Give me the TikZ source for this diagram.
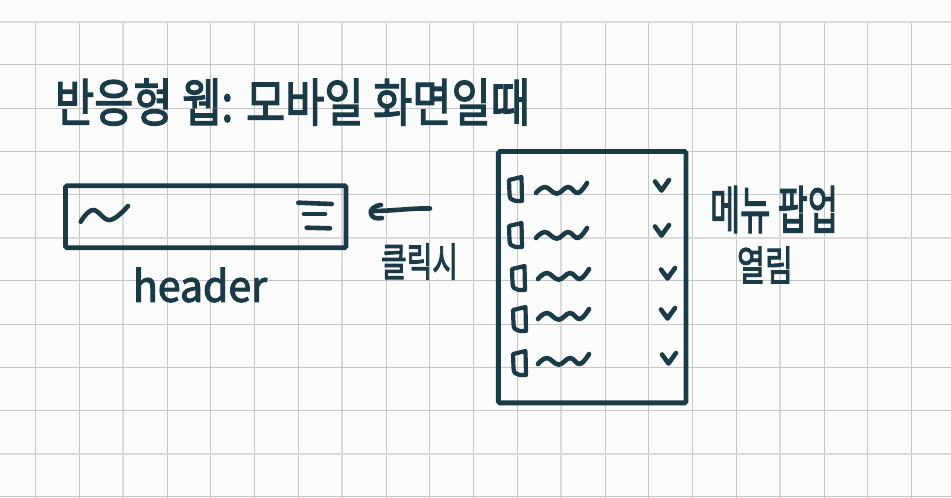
\documentclass[tikz,border=0pt]{standalone}
\usepackage{fontspec}
\usepackage{graphicx}
\newfontfamily\krfont{Noto Sans CJK KR}[FakeBold=2.6]
\definecolor{ink}{HTML}{1A3A47}
\definecolor{gridminor}{HTML}{C6C6C6}
\definecolor{gridmajor}{HTML}{DADADA}
\definecolor{paper}{HTML}{FCFCFC}
\tikzset{
  ink/.style={draw=ink, line width=4.6pt, line cap=round, line join=round},
  boxframe/.style={draw=ink, line width=4.8pt, rounded corners=1.5pt, inner sep=0pt},
  handtext/.style={text=ink, inner sep=0pt, font=\krfont},
  minorline/.style={draw=gridminor, line width=0.9pt},
  majorline/.style={draw=gridmajor, line width=1.8pt},
}
\newcommand{\fitbox}[3]{\resizebox{#1pt}{#2pt}{#3}}
\begin{document}
\begin{tikzpicture}[x=1pt,y=-1pt]
\fill[paper] (0,0) rectangle (951,498);
\useasboundingbox (0,0) rectangle (951,498);
% grid
\foreach \k in {0,...,20}{
  \pgfmathsetmacro{\gx}{35.7+43.8*\k}
  \pgfmathtruncatemacro{\m}{mod(\k,5)}
  \ifnum\m=2 \draw[majorline] (\gx,21.7) -- (\gx,498);
  \else \draw[minorline] (\gx,21.7) -- (\gx,498); \fi
}
\foreach \k in {0,...,11}{
  \pgfmathsetmacro{\gy}{21.7+43.2*\k}
  \pgfmathtruncatemacro{\m}{mod(\k,5)}
  \ifnum\m=0 \draw[majorline] (0,\gy) -- (951,\gy);
  \else \draw[minorline] (0,\gy) -- (951,\gy); \fi
}
% title
\node[handtext] (title) at (292.5,102) {\fitbox{475}{43}{반응형 웹: 모바일 화면일때}};
% header box
\node[boxframe, minimum width=280.5pt, minimum height=62pt] (header) at (205.8,216.7) {};
\draw[ink] plot[smooth, tension=0.7] coordinates {(80.7,221.7) (93,210) (110,220) (128,206)};
\draw[ink] (298.3,202.7) -- (331.7,204);
\draw[ink] (304,214) -- (325,214);
\draw[ink] (306.7,227.7) -- (330,228.3);
\node[handtext] (headerlabel) at (200,285) {\fitbox{134}{34}{header}};
% arrow
\coordinate (arrowstart) at (430,208.5);
\coordinate (arrowend) at (371,211);
\draw[ink] (arrowstart) .. controls (410,208) and (395,211) .. (arrowend);
\draw[ink] ([shift={(10,-6)}]arrowend) .. controls ([shift={(2,-5)}]arrowend) and ([shift={(-1,-1)}]arrowend) .. ([shift={(0,3)}]arrowend) .. controls ([shift={(1,7)}]arrowend) and ([shift={(6,8)}]arrowend) .. ([shift={(11,7)}]arrowend);
\node[handtext] (click) at (419.5,261.5) {\fitbox{77}{33}{클릭시}};
% menu box
\node[boxframe, minimum width=187.7pt, minimum height=251.3pt] (menu) at (592.2,277.2) {};
\foreach \dx/\dy/\wx/\wy/\cx/\cy in {
  508/177/536/193/655/186,
  508/223/536/238/655/231,
  511/266/538/279/661/274,
  512/307/538/319/661/314,
  512/351/538/364/662/359}{
  \draw[ink, line width=4.2pt] (\dx+1,\dy+3) -- (\dx+13.5,\dy) -- (\dx+14,\dy+24) -- (\dx+8,\dy+24) .. controls (\dx+2,\dy+22) .. (\dx+1.5,\dy+17) -- cycle;
  \draw[ink] plot[smooth, tension=0.7] coordinates {(\wx,\wy) (\wx+9,\wy-6) (\wx+20.7,\wy+0.6) (\wx+32,\wy-6) (\wx+42,\wy) (\wx+51,\wy-10)};
  \draw[ink] (\cx,\cy-4.5) -- (\cx+6.5,\cy+4.5) -- (\cx+14,\cy-6);
}
\node[handtext] (menulabel) at (774,209.5) {\fitbox{128}{43}{메뉴 팝업}};
\node[handtext] (openlabel) at (765,265) {\fitbox{56}{34}{열림}};
\end{tikzpicture}
\end{document}
